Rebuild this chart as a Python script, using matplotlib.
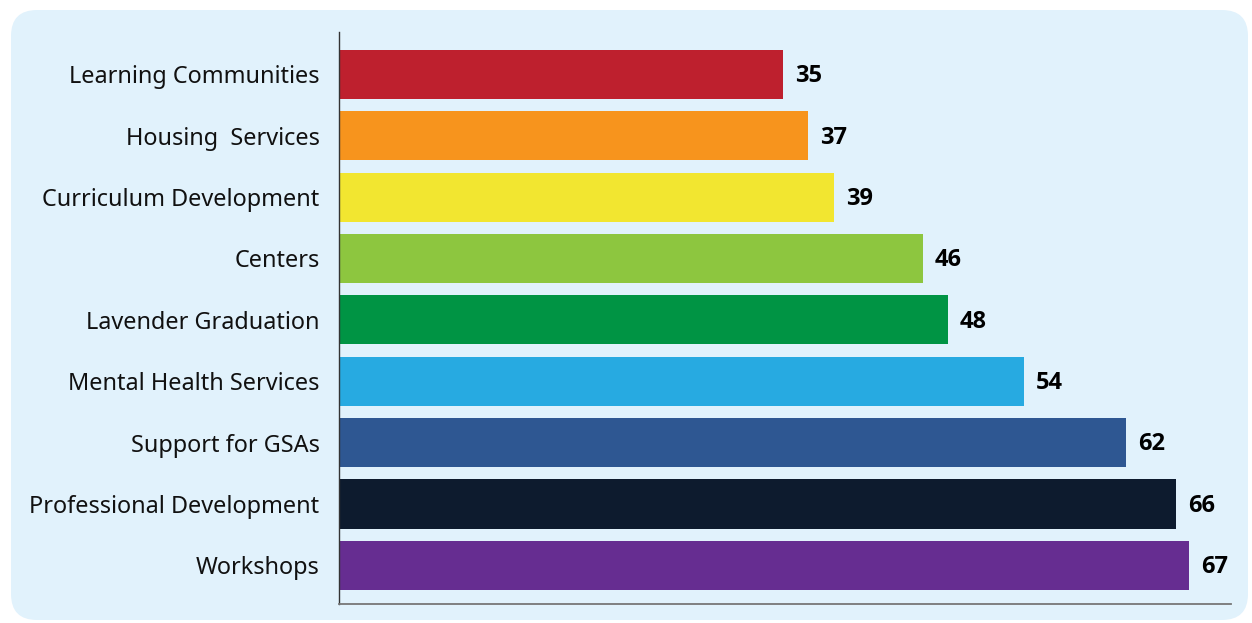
import matplotlib.pyplot as plt
from matplotlib.patches import FancyBboxPatch

categories = ['Learning Communities', 'Housing  Services', 'Curriculum Development',
              'Centers', 'Lavender Graduation', 'Mental Health Services',
              'Support for GSAs', 'Professional Development', 'Workshops']
values = [35, 37, 39, 46, 48, 54, 62, 66, 67]
colors = ['#BE202E', '#F7941D', '#F2E630', '#8DC63F', '#009444',
          '#27AAE1', '#2E5792', '#0D1B2E', '#662D91']

plt.rcParams['font.family'] = ['Noto Sans', 'DejaVu Sans']

W, H = 1252, 623
fig = plt.figure(figsize=(W / 100, H / 100), dpi=100)
fig.patch.set_facecolor('white')

# rounded light-blue panel behind the chart
r = 26
box = FancyBboxPatch((11 / W, (H - 620) / H), (1248 - 11) / W, (620 - 10) / H,
                     boxstyle='round,pad=0,rounding_size=%f' % (r / W),
                     transform=fig.transFigure, facecolor='#E1F2FC',
                     edgecolor='none', mutation_aspect=W / H, zorder=-10)
fig.patches.append(box)

ax = fig.add_axes([339 / W, (H - 604) / H, (1231 - 339) / W, (604 - 32) / H])
ax.set_facecolor('none')
ax.set_zorder(1)

y = list(range(len(categories)))
ax.barh(y, values, height=0.8, color=colors)
for yi, v in zip(y, values):
    ax.text(v + 0.95, yi + 0.03, str(v), va='center', ha='left',
            family=['Open Sans', 'DejaVu Sans'],
            fontsize=17, fontweight='bold', color='black')

ax.set_xlim(0, 70.3)
ax.set_ylim(8.63, -0.69)
ax.set_yticks(y)
ax.set_yticklabels(categories, fontsize=16.9, color='#111111')
ax.tick_params(axis='y', length=0, pad=14)
ax.set_xticks([])

for s in ['top', 'right']:
    ax.spines[s].set_visible(False)
ax.spines['left'].set_color('#333333')
ax.spines['left'].set_linewidth(1.0)
ax.spines['bottom'].set_color('#777777')
ax.spines['bottom'].set_linewidth(1.3)

plt.savefig('out.png', dpi=100)
